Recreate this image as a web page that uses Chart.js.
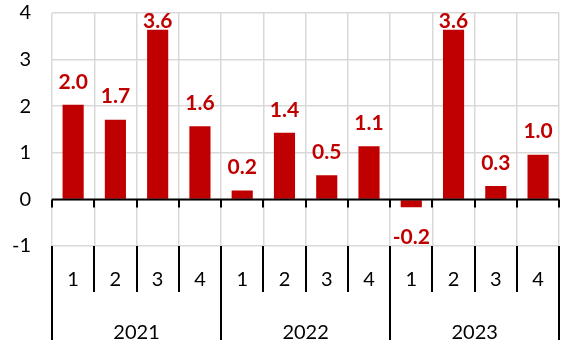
<!DOCTYPE html>
<html>
<head>
<meta charset="utf-8">
<script src="https://cdn.jsdelivr.net/npm/chart.js@4"></script>
<style>
  html, body { margin: 0; padding: 0; background: #fff; }
  #wrap { width: 566px; height: 340px; }
</style>
</head>
<body>
<div id="wrap"><canvas id="growth"></canvas></div>
<script>
const quarters = ['1', '2', '3', '4', '1', '2', '3', '4', '1', '2', '3', '4'];
const years = ['2021', '2022', '2023'];
const values = [2.03, 1.71, 3.64, 1.57, 0.19, 1.43, 0.52, 1.14, -0.17, 3.64, 0.29, 0.96];

const RED = '#C00000';

// zero line with tick marks, category separators, value labels
const extras = {
    id: 'extras',
    afterDatasetsDraw(chart) {
        const {ctx, chartArea, scales: {x, y}} = chart;
        const y0 = y.getPixelForValue(0);
        ctx.save();
        ctx.strokeStyle = '#000';
        ctx.lineWidth = 2;
        ctx.beginPath();
        ctx.moveTo(chartArea.left, y0);
        ctx.lineTo(chartArea.right, y0);
        for (let i = 0; i <= quarters.length; i++) {
            const px = Math.round(x.getPixelForValue(i - 0.5));
            ctx.moveTo(px, y0);
            ctx.lineTo(px, y0 + 8);
            ctx.moveTo(px, chartArea.bottom);
            ctx.lineTo(px, i % 4 === 0 ? chart.height : x.bottom);
        }
        ctx.stroke();

        ctx.fillStyle = RED;
        ctx.font = 'bold 21px Lato';
        ctx.textAlign = 'center';
        ctx.textBaseline = 'middle';
        chart.getDatasetMeta(0).data.forEach((bar, i) => {
            const v = values[i];
            let ty = v >= 0 ? bar.y - 23 : bar.y + 30;
            ty = Math.max(ty, chartArea.top + 8);
            ctx.fillText(v.toFixed(1), bar.x, ty);
        });
        ctx.restore();
    }
};

new Chart(document.getElementById('growth'), {
    type: 'bar',
    data: {
        labels: quarters,
        datasets: [{
            data: values,
            backgroundColor: RED,
            categoryPercentage: 1,
            barPercentage: 0.5
        }]
    },
    options: {
        responsive: true,
        maintainAspectRatio: false,
        animation: false,
        layout: {padding: {top: 13, right: 3, bottom: 0, left: 0}},
        plugins: {legend: {display: false}, tooltip: {enabled: false}},
        scales: {
            x: {
                position: 'bottom',
                border: {display: false},
                grid: {offset: true, color: '#D9D9D9', lineWidth: 1.5, drawTicks: false},
                afterFit(scale) { scale.height = 46; },
                ticks: {
                    padding: 22,
                    maxRotation: 0,
                    color: '#000',
                    font: {family: 'Lato', size: 20}
                }
            },
            x2: {
                type: 'category',
                labels: years,
                position: 'bottom',
                offset: true,
                border: {display: false},
                grid: {display: false},
                afterFit(scale) { scale.height = 48; },
                ticks: {
                    padding: 21,
                    maxRotation: 0,
                    color: '#000',
                    font: {family: 'Lato', size: 20}
                }
            },
            y: {
                min: -1,
                max: 4,
                border: {display: false},
                grid: {color: '#D9D9D9', lineWidth: 1.5, drawTicks: false},
                afterFit(scale) {
                    scale.width = 52;
                    scale.paddingTop = 0;
                    scale.paddingBottom = 0;
                },
                ticks: {
                    stepSize: 1,
                    padding: 21,
                    color: '#000',
                    font: {family: 'Lato', size: 20}
                }
            }
        }
    },
    plugins: [extras]
});
</script>
</body>
</html>
